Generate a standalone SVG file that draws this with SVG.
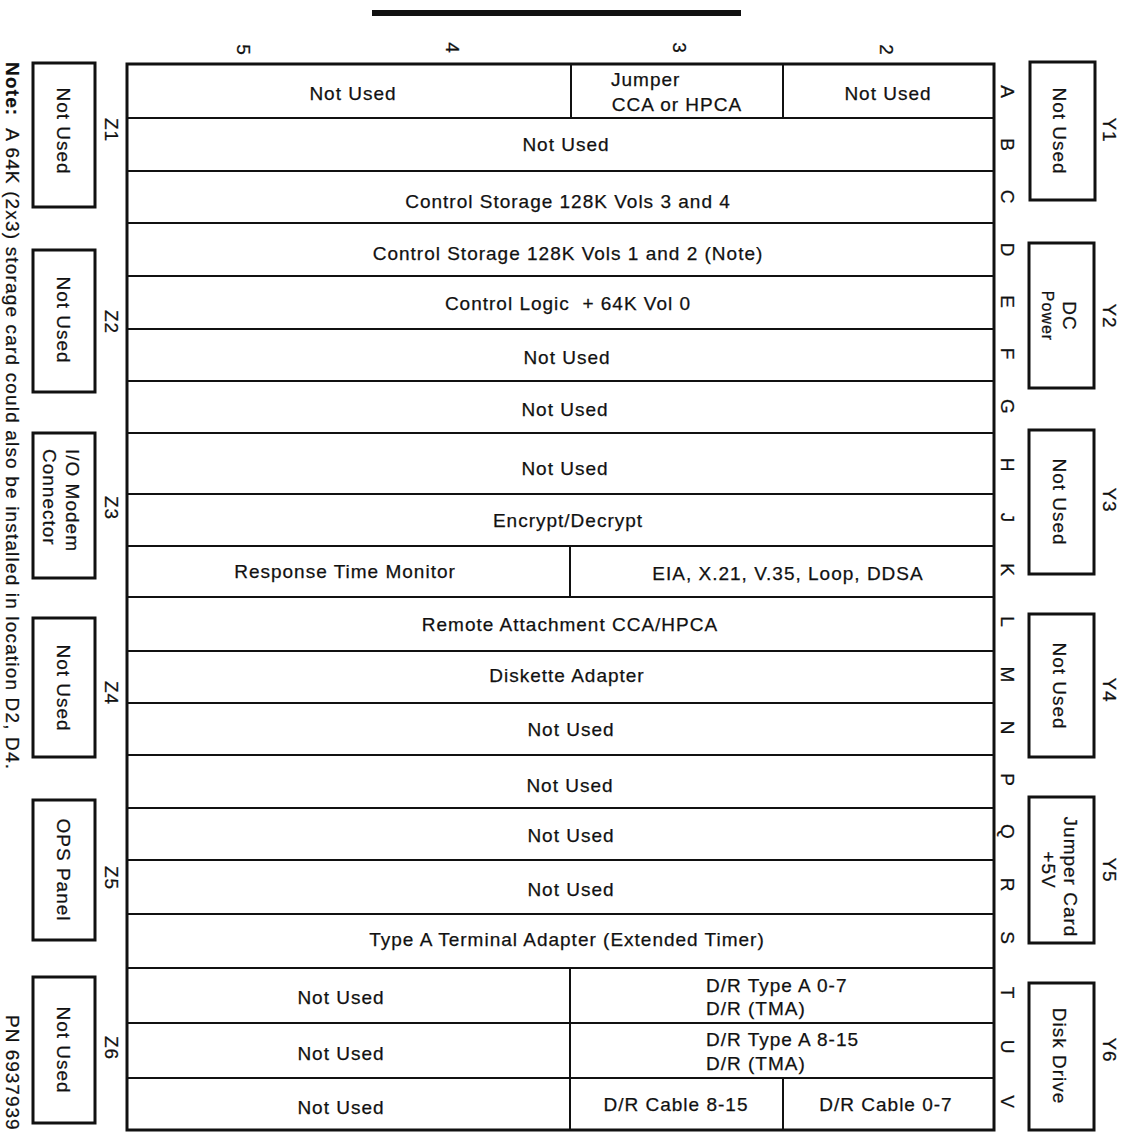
<svg xmlns="http://www.w3.org/2000/svg" width="1125" height="1136" viewBox="0 0 1125 1136">
<style>
text{font-family:"Liberation Sans",Arial,sans-serif;font-size:19px;letter-spacing:1px;fill:#111;stroke:#111;stroke-width:0.25}
.m{text-anchor:middle}
.s{text-anchor:start}
.sm{font-size:16px}
.pre{white-space:pre}
.frame{fill:none;stroke:#111;stroke-width:3}
.ln{stroke:#111;stroke-width:2;fill:none}
.box{fill:none;stroke:#111;stroke-width:3}
</style>
<rect x="372" y="10" width="369" height="6" fill="#111"/>
<g id="board">
<rect class="frame" x="127" y="64" width="867" height="1066"/>
</g>
<g id="connectors">
<path class="ln" d="M127 118H994M127 171H994M127 223H994M127 276H994M127 329H994M127 381H994M127 433H994M127 494H994M127 546H994M127 597H994M127 651H994M127 703H994M127 755H994M127 808H994M127 860H994M127 914H994M127 968H994M127 1023H994M127 1078H994"/>
<path class="ln" d="M571 64V118M783 64V118M570 546V597M570 968V1130M783 1078V1130"/>
</g>
<g id="columns">
<text class="m" transform="translate(244,50) rotate(90)" y="7">5</text>
<text class="m" transform="translate(453,48) rotate(90)" y="7">4</text>
<text class="m" transform="translate(680,48) rotate(90)" y="7">3</text>
<text class="m" transform="translate(887,50) rotate(90)" y="7">2</text>
</g>
<g id="rows">
<text class="m" transform="translate(1008,92) rotate(90)" y="7">A</text>
<text class="m" transform="translate(1008,145) rotate(90)" y="7">B</text>
<text class="m" transform="translate(1008,197) rotate(90)" y="7">C</text>
<text class="m" transform="translate(1008,250) rotate(90)" y="7">D</text>
<text class="m" transform="translate(1008,302) rotate(90)" y="7">E</text>
<text class="m" transform="translate(1008,354) rotate(90)" y="7">F</text>
<text class="m" transform="translate(1008,407) rotate(90)" y="7">G</text>
<text class="m" transform="translate(1008,465) rotate(90)" y="7">H</text>
<text class="m" transform="translate(1008,518) rotate(90)" y="7">J</text>
<text class="m" transform="translate(1008,570) rotate(90)" y="7">K</text>
<text class="m" transform="translate(1008,622) rotate(90)" y="7">L</text>
<text class="m" transform="translate(1008,675) rotate(90)" y="7">M</text>
<text class="m" transform="translate(1008,728) rotate(90)" y="7">N</text>
<text class="m" transform="translate(1008,780) rotate(90)" y="7">P</text>
<text class="m" transform="translate(1008,832) rotate(90)" y="7">Q</text>
<text class="m" transform="translate(1008,885) rotate(90)" y="7">R</text>
<text class="m" transform="translate(1008,938) rotate(90)" y="7">S</text>
<text class="m" transform="translate(1008,993) rotate(90)" y="7">T</text>
<text class="m" transform="translate(1008,1047) rotate(90)" y="7">U</text>
<text class="m" transform="translate(1008,1102) rotate(90)" y="7">V</text>
</g>
<g id="slots">
<text class="m" x="353" y="100">Not Used</text>
<text class="s" x="611" y="86">Jumper</text>
<text class="m" x="677" y="111">CCA or HPCA</text>
<text class="m" x="888" y="100">Not Used</text>
<text class="m" x="566" y="151">Not Used</text>
<text class="m" x="568" y="208">Control Storage 128K Vols 3 and 4</text>
<text class="m" x="568" y="260">Control Storage 128K Vols 1 and 2 (Note)</text>
<text class="m pre" x="568" y="310">Control Logic  + 64K Vol 0</text>
<text class="m" x="567" y="364">Not Used</text>
<text class="m" x="565" y="416">Not Used</text>
<text class="m" x="565" y="475">Not Used</text>
<text class="m" x="568" y="527">Encrypt/Decrypt</text>
<text class="m" x="345" y="578">Response Time Monitor</text>
<text class="m" x="788" y="580">EIA, X.21, V.35, Loop, DDSA</text>
<text class="m" x="570" y="631">Remote Attachment CCA/HPCA</text>
<text class="m" x="567" y="682">Diskette Adapter</text>
<text class="m" x="571" y="736">Not Used</text>
<text class="m" x="570" y="792">Not Used</text>
<text class="m" x="571" y="842">Not Used</text>
<text class="m" x="571" y="896">Not Used</text>
<text class="m" x="567" y="946">Type A Terminal Adapter (Extended Timer)</text>
<text class="m" x="341" y="1004">Not Used</text>
<text class="s" x="706" y="992">D/R Type A 0-7</text>
<text class="s" x="706" y="1015">D/R (TMA)</text>
<text class="m" x="341" y="1060">Not Used</text>
<text class="s" x="706" y="1046">D/R Type A 8-15</text>
<text class="s" x="706" y="1070">D/R (TMA)</text>
<text class="m" x="341" y="1114">Not Used</text>
<text class="m" x="676" y="1111">D/R Cable 8-15</text>
<text class="m" x="886" y="1111">D/R Cable 0-7</text>
</g>
<g id="Z1"><rect class="box" x="33" y="63" width="62" height="144"/><text class="m" transform="translate(64,131) rotate(90)" y="7">Not Used</text><text class="m" transform="translate(112,130) rotate(90)" y="7">Z1</text></g>
<g id="Z2"><rect class="box" x="33" y="250" width="62" height="142"/><text class="m" transform="translate(64,320) rotate(90)" y="7">Not Used</text><text class="m" transform="translate(112,322) rotate(90)" y="7">Z2</text></g>
<g id="Z3"><rect class="box" x="33" y="433" width="62" height="145"/><text class="s" transform="translate(73,449) rotate(90)" y="7">I/O Modem</text><text class="s" transform="translate(50,449) rotate(90)" y="7">Connector</text><text class="m" transform="translate(112,508) rotate(90)" y="7">Z3</text></g>
<g id="Z4"><rect class="box" x="33" y="618" width="62" height="139"/><text class="m" transform="translate(64,688) rotate(90)" y="7">Not Used</text><text class="m" transform="translate(112,693) rotate(90)" y="7">Z4</text></g>
<g id="Z5"><rect class="box" x="33" y="800" width="62" height="140"/><text class="m" transform="translate(64,870) rotate(90)" y="7">OPS Panel</text><text class="m" transform="translate(112,878) rotate(90)" y="7">Z5</text></g>
<g id="Z6"><rect class="box" x="33" y="977" width="62" height="146"/><text class="m" transform="translate(64,1050) rotate(90)" y="7">Not Used</text><text class="m" transform="translate(112,1048) rotate(90)" y="7">Z6</text></g>
<g id="Y1"><rect class="box" x="1030" y="62" width="65" height="138"/><text class="m" transform="translate(1060,131) rotate(90)" y="7">Not Used</text><text class="m" transform="translate(1110,130) rotate(90)" y="7">Y1</text></g>
<g id="Y2"><rect class="box" x="1029" y="243" width="65" height="145"/><text class="m" transform="translate(1070,316) rotate(90)" y="7">DC</text><text class="m sm" transform="translate(1048,316) rotate(90)" y="6">Power</text><text class="m" transform="translate(1110,316) rotate(90)" y="7">Y2</text></g>
<g id="Y3"><rect class="box" x="1029" y="430" width="65" height="144"/><text class="m" transform="translate(1060,502) rotate(90)" y="7">Not Used</text><text class="m" transform="translate(1110,500) rotate(90)" y="7">Y3</text></g>
<g id="Y4"><rect class="box" x="1029" y="614" width="65" height="143"/><text class="m" transform="translate(1060,686) rotate(90)" y="7">Not Used</text><text class="m" transform="translate(1110,690) rotate(90)" y="7">Y4</text></g>
<g id="Y5"><rect class="box" x="1029" y="797" width="65" height="146"/><text class="m" transform="translate(1071,877) rotate(90)" y="7">Jumper Card</text><text class="m" transform="translate(1049,870) rotate(90)" y="7">+5V</text><text class="m" transform="translate(1110,870) rotate(90)" y="7">Y5</text></g>
<g id="Y6"><rect class="box" x="1029" y="983" width="65" height="147"/><text class="m" transform="translate(1060,1056) rotate(90)" y="7">Disk Drive</text><text class="m" transform="translate(1110,1050) rotate(90)" y="7">Y6</text></g>
<g id="notes">
<text class="s pre" transform="translate(13,62) rotate(90)" y="7" textLength="708" lengthAdjust="spacing"><tspan font-weight="bold">Note:</tspan>  A 64K (2x3) storage card could also be installed in location D2, D4.</text>
<text class="s" transform="translate(13,1015) rotate(90)" y="7">PN 6937939</text>
</g>
</svg>
